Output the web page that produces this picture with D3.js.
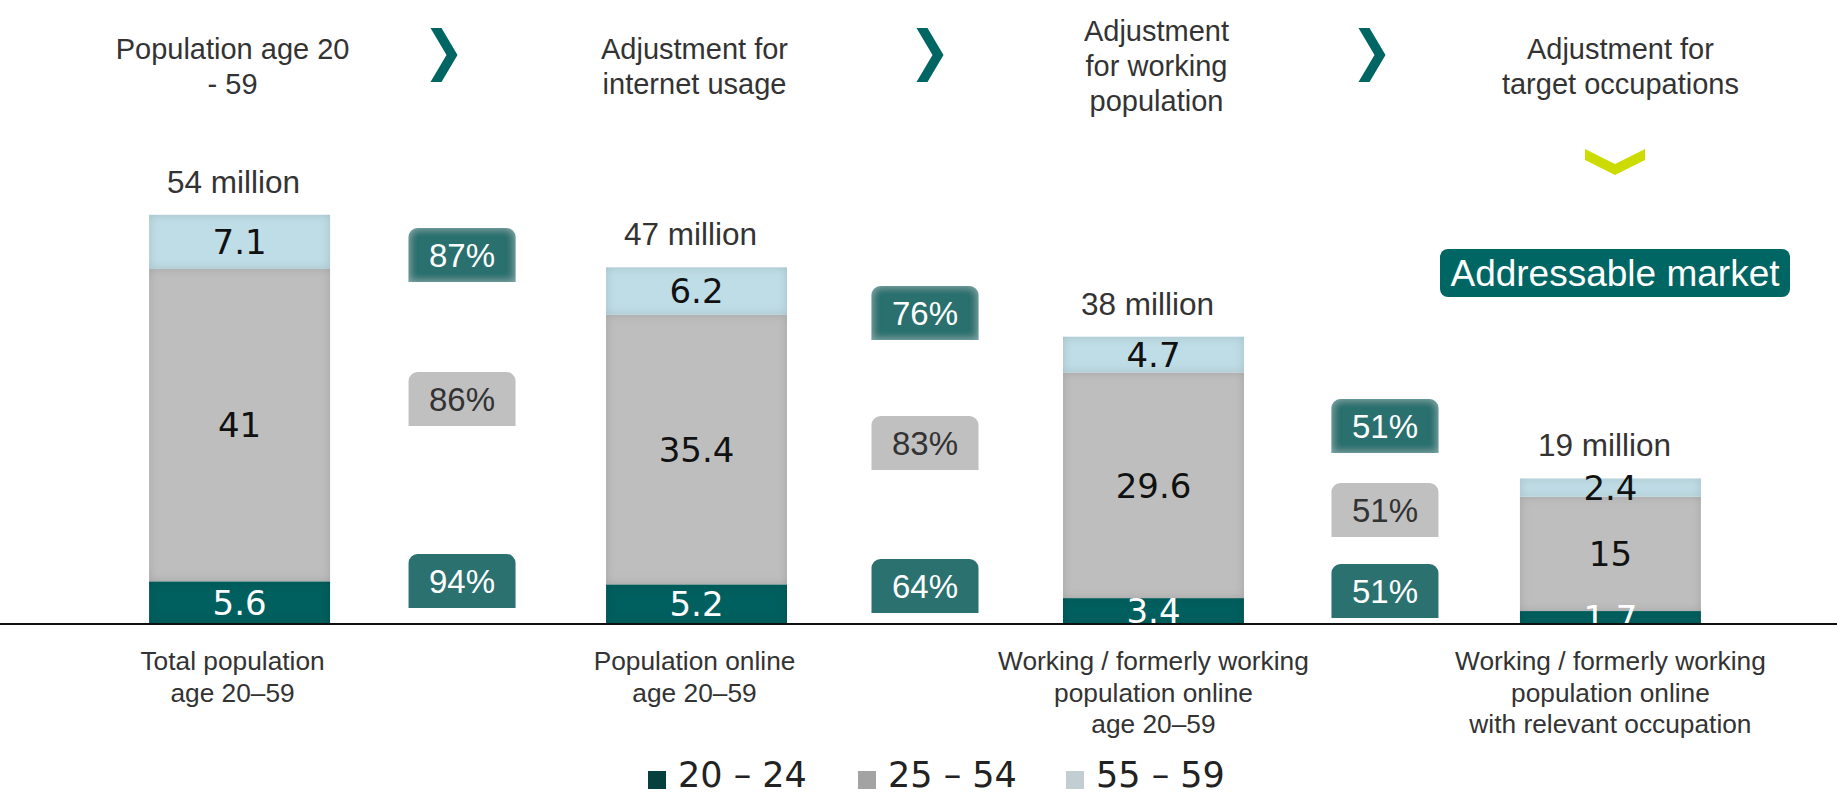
<!DOCTYPE html>
<html>
<head>
<meta charset="utf-8">
<script src="https://cdn.jsdelivr.net/npm/d3@7"></script>
<style>
  html, body { margin: 0; padding: 0; background: #ffffff; }
  svg { display: block; }
</style>
</head>
<body>
<svg id="chart" width="1837" height="796"></svg>
<script>
// ---- data -------------------------------------------------------------
const stepTitles = [
  ["Population age 20", "- 59"],
  ["Adjustment for", "internet usage"],
  ["Adjustment", "for working", "population"],
  ["Adjustment for", "target occupations"]
];
const categoryLabels = [
  ["Total population", "age 20\u201359"],
  ["Population online", "age 20\u201359"],
  ["Working / formerly working", "population online", "age 20\u201359"],
  ["Working / formerly working", "population online", "with relevant occupation"]
];
const ageGroups = ["20 \u2013 24", "25 \u2013 54", "55 \u2013 59"];
const age20to24 = [5.6, 5.2, 3.4, 1.7];
const age25to54 = [41, 35.4, 29.6, 15];
const age55to59 = [7.1, 6.2, 4.7, 2.4];
const totalsMillion = [54, 47, 38, 19];
// conversion rates between consecutive steps (per age group, in %)
const rate20to24 = [94, 64, 51];
const rate25to54 = [86, 83, 51];
const rate55to59 = [87, 76, 51];
const highlightLabel = "Addressable market";

// ---- layout -----------------------------------------------------------
const W = 1837, H = 796;
const baseY = 624;
const svg = d3.select("#chart");
svg.append("rect").attr("width", W).attr("height", H).attr("fill", "#fff");

const TEXT_FONT = "'Liberation Sans', Arial, Helvetica, sans-serif";
const NUM_FONT = "'DejaVu Sans', Verdana, sans-serif";

const keys = ["a20", "a25", "a55"];
const colors = { a20: "#00605f", a25: "#bebebe", a55: "#bfdde6" };
const legendColors = ["#053f3e", "#a3a3a3", "#c2ced2"];
const labelColors = { a20: "#ffffff", a25: "#111111", a55: "#111111" };

const rows = categoryLabels.map((c, i) => ({
  idx: i, a20: age20to24[i], a25: age25to54[i], a55: age55to59[i]
}));

const x = d3.scaleBand()
  .domain(rows.map(d => d.idx))
  .range([12, 1838])
  .paddingInner(0.604)
  .paddingOuter(0.3);

const y = d3.scaleLinear().domain([0, 60]).range([baseY, baseY - 457.2]);

const series = d3.stack().keys(keys)(rows);

// ---- filters ----------------------------------------------------------
const defs = svg.append("defs");
function insetFilter(id, color, opacity, blur) {
  const f = defs.append("filter").attr("id", id)
    .attr("x", "-20%").attr("y", "-20%").attr("width", "140%").attr("height", "140%");
  f.append("feFlood").attr("flood-color", color).attr("flood-opacity", opacity).attr("result", "flood");
  f.append("feComposite").attr("in", "flood").attr("in2", "SourceAlpha").attr("operator", "out").attr("result", "outside");
  f.append("feGaussianBlur").attr("in", "outside").attr("stdDeviation", blur).attr("result", "blurred");
  f.append("feComposite").attr("in", "blurred").attr("in2", "SourceAlpha").attr("operator", "in").attr("result", "inner");
  const m = f.append("feMerge");
  m.append("feMergeNode").attr("in", "SourceGraphic");
  m.append("feMergeNode").attr("in", "inner");
}
insetFilter("insetDark", "#000", 0.3, 5);
insetFilter("insetLight", "#b5dcdb", 0.55, 4);

defs.append("clipPath").attr("id", "plotClip")
  .append("rect").attr("x", 0).attr("y", 0).attr("width", W).attr("height", baseY);

// ---- step titles + chevrons --------------------------------------------
const titleG = svg.append("g");
stepTitles.forEach((lines, i) => {
  const cx = x(i) + x.bandwidth() / 2 + [-7, -2, 3, 10][i];
  const lh = 35;
  const first = 66 - (lines.length - 1) * lh / 2 + 10;
  const t = titleG.append("text")
    .attr("text-anchor", "middle")
    .attr("font-family", TEXT_FONT).attr("font-size", 29).attr("fill", "#333");
  lines.forEach((ln, k) => {
    t.append("tspan").attr("x", cx).attr("y", first + k * lh).text(ln);
  });
});

const chevronX = [444, 930, 1372];
chevronX.forEach(cx => {
  const w = 27, h = 54, x0 = cx - w / 2, y0 = 28;
  const pts = [[0, 0], [11, 0], [w, h / 2], [11, h], [0, h], [16, h / 2]]
    .map(p => [x0 + p[0], y0 + p[1]]);
  svg.append("path").attr("d", d3.line()(pts) + "Z").attr("fill", "#006664");
});

// down chevron + highlight box above the last column
{
  const cx = 1615, y0 = 149, w = 60;
  const pts = [[0, 0], [w / 2, 15], [w, 0], [w, 11], [w / 2, 26], [0, 11]]
    .map(p => [cx - w / 2 + p[0], y0 + p[1]]);
  svg.append("path").attr("d", d3.line()(pts) + "Z").attr("fill", "#ccdc00");

  svg.append("rect").attr("x", 1440).attr("y", 249).attr("width", 350).attr("height", 48)
    .attr("rx", 8).attr("fill", "#006664");
  svg.append("text").attr("x", 1615).attr("y", 286)
    .attr("text-anchor", "middle").attr("font-family", TEXT_FONT)
    .attr("font-size", 37).attr("fill", "#fff").text(highlightLabel);
}

// ---- stacked bars -----------------------------------------------------
const barsG = svg.append("g");
series.forEach(s => {
  barsG.selectAll(null).data(s).join("rect")
    .attr("x", d => x(d.data.idx))
    .attr("y", d => y(d[1]))
    .attr("width", x.bandwidth())
    .attr("height", d => y(d[0]) - y(d[1]))
    .attr("fill", colors[s.key])
    .attr("filter", "url(#insetDark)");
});

const labelG = svg.append("g").attr("clip-path", "url(#plotClip)");
series.forEach(s => {
  labelG.selectAll(null).data(s).join("text")
    .attr("x", d => x(d.data.idx) + x.bandwidth() / 2)
    .attr("y", d => (y(d[0]) + y(d[1])) / 2)
    .attr("dy", "0.36em")
    .attr("text-anchor", "middle")
    .attr("font-family", NUM_FONT).attr("font-size", 34)
    .attr("fill", labelColors[s.key])
    .text(d => String(d.data[s.key]));
});

// totals above the bars
svg.append("g").selectAll("text").data(rows).join("text")
  .attr("x", d => x(d.idx) + x.bandwidth() / 2 - 6)
  .attr("y", d => y(d.a20 + d.a25 + d.a55) - 22)
  .attr("text-anchor", "middle")
  .attr("font-family", TEXT_FONT).attr("font-size", 31.5).attr("fill", "#333")
  .text(d => totalsMillion[d.idx] + " million");

// ---- conversion rate boxes --------------------------------------------
function topRounded(x0, y0, w, h, r) {
  const p = d3.path();
  p.moveTo(x0, y0 + h);
  p.lineTo(x0, y0 + r);
  p.arcTo(x0, y0, x0 + r, y0, r);
  p.lineTo(x0 + w - r, y0);
  p.arcTo(x0 + w, y0, x0 + w, y0 + r, r);
  p.lineTo(x0 + w, y0 + h);
  p.closePath();
  return p.toString();
}
const boxW = 107, boxH = 54;
const boxDx = [-6, 0, 3];
// vertical centres of the three boxes in each gap (55–59, 25–54, 20–24)
const boxCentres = [[255, 399, 581], [313, 443, 586], [426, 510, 591]];
const rateRows = [
  { vals: rate55to59, fill: "#2b6f6e", text: "#fff", filter: "url(#insetLight)" },
  { vals: rate25to54, fill: "#c0c0c0", text: "#333", filter: null },
  { vals: rate20to24, fill: "#2a7170", text: "#fff", filter: null }
];
const ratesG = svg.append("g");
for (let i = 0; i < 3; i++) {
  const cx = x(i) + x.bandwidth() + (x.step() - x.bandwidth()) / 2 + boxDx[i];
  rateRows.forEach((r, k) => {
    const cy = boxCentres[i][k];
    const p = ratesG.append("path")
      .attr("d", topRounded(cx - boxW / 2, cy - boxH / 2, boxW, boxH, 9))
      .attr("fill", r.fill);
    if (r.filter) p.attr("filter", r.filter);
    ratesG.append("text").attr("x", cx).attr("y", cy + 12)
      .attr("text-anchor", "middle").attr("font-family", TEXT_FONT)
      .attr("font-size", 33).attr("fill", r.text)
      .text(r.vals[i] + "%");
  });
}

// ---- baseline ---------------------------------------------------------
svg.append("line").attr("x1", 0).attr("x2", W).attr("y1", baseY).attr("y2", baseY)
  .attr("stroke", "#111").attr("stroke-width", 2);

// ---- category labels --------------------------------------------------
categoryLabels.forEach((lines, i) => {
  const cx = x(i) + x.bandwidth() / 2 + [-7, -2, 0, 0][i];
  const t = svg.append("text").attr("text-anchor", "middle")
    .attr("font-family", TEXT_FONT).attr("font-size", 26.3).attr("fill", "#333");
  lines.forEach((ln, k) => t.append("tspan").attr("x", cx).attr("y", 670 + k * 31.7).text(ln));
});

// ---- legend -----------------------------------------------------------
const legend = svg.append("g");
const legendX = [648, 858, 1066];
ageGroups.forEach((g, i) => {
  const lx = legendX[i];
  legend.append("rect").attr("x", lx).attr("y", 771).attr("width", 18).attr("height", 18)
    .attr("fill", legendColors[i]);
  legend.append("text").attr("x", lx + 30).attr("y", 787)
    .attr("font-family", NUM_FONT).attr("font-size", 35).attr("fill", "#222").text(g);
});
</script>
</body>
</html>
